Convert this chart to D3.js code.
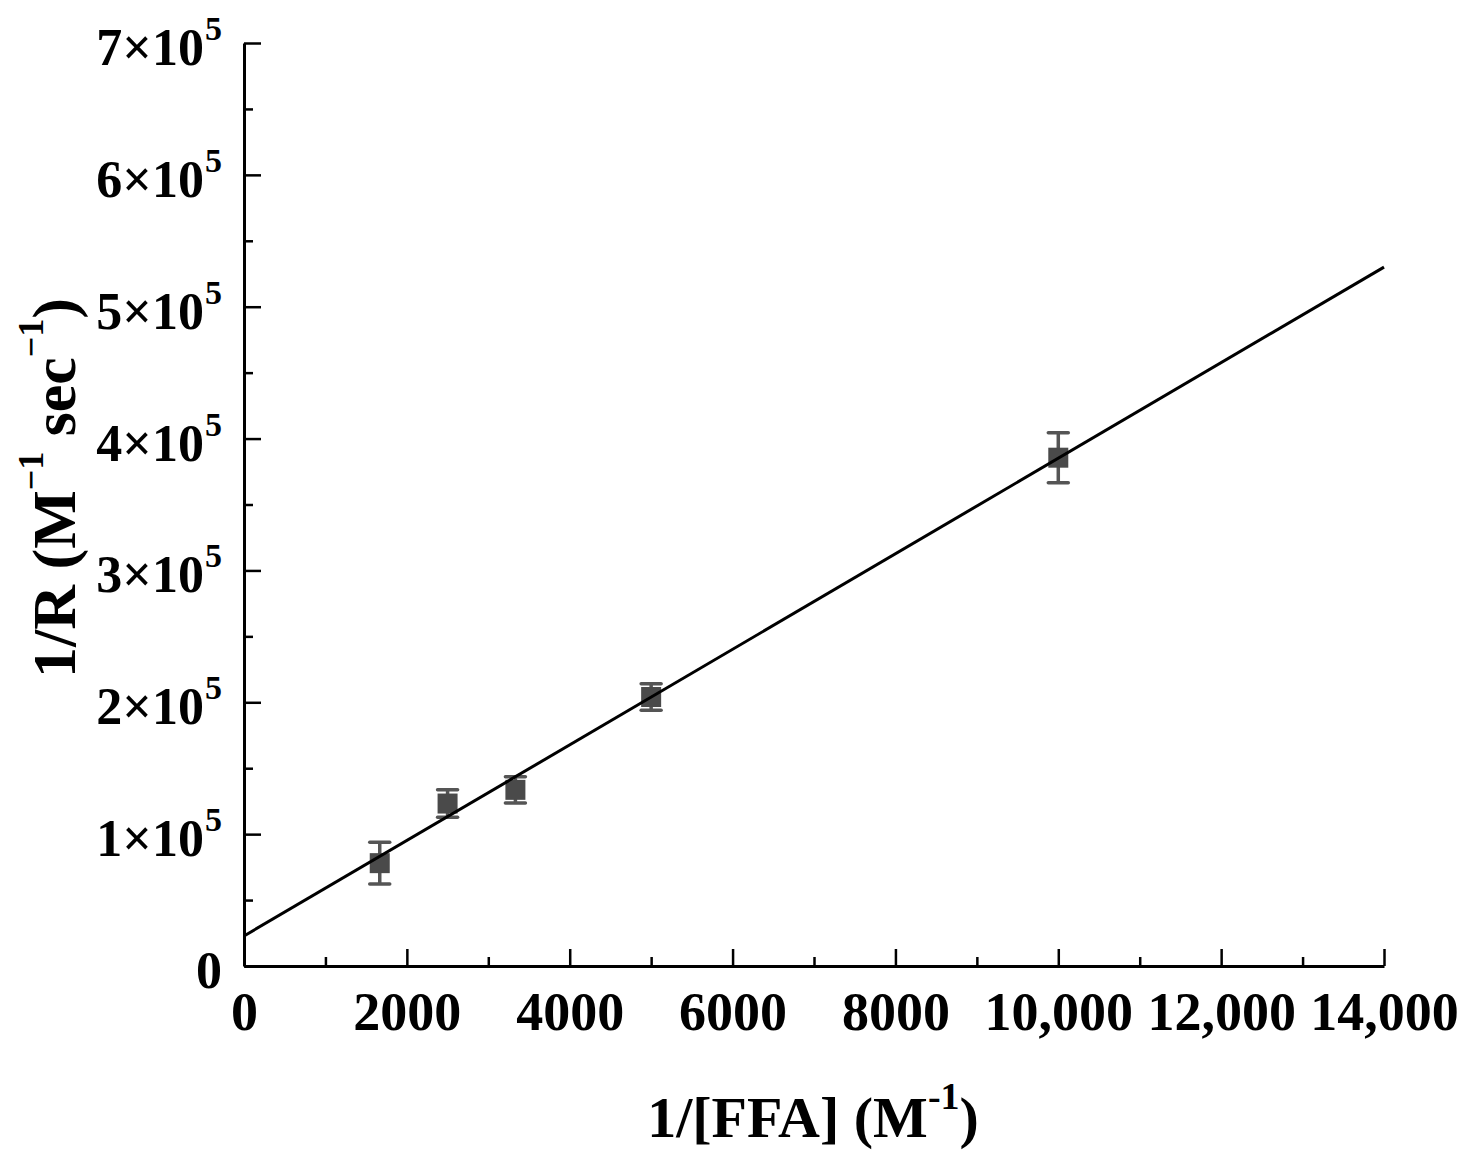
<!DOCTYPE html>
<html>
<head>
<meta charset="utf-8">
<script src="https://cdn.jsdelivr.net/npm/d3@7"></script>
<style>
  body { margin: 0; background: #fff; }
  svg text { font-family: "Liberation Serif", "Times New Roman", serif; font-weight: bold; fill: #000; }
</style>
</head>
<body>
<script>
// data
let invFFA = [1667, 2500, 3333, 5000, 10000];
let invR = [78000, 123200, 133600, 204000, 385500];
let errR = [15800, 10400, 9900, 10100, 19000];
let fitX = [0, 14000];
let fitY = [22800, 530000];
let xTicks = [0, 2000, 4000, 6000, 8000, 10000, 12000, 14000];
let yTicks = [0, 1, 2, 3, 4, 5, 6, 7];   // times 10^5

let w = 1471, h = 1164;
let padL = 244, padR = 1384, padT = 43, padB = 966;

let svg = d3.select('body').append('svg')
  .attr('width', w)
  .attr('height', h);

let xScale = d3.scaleLinear().domain([0, 14000]).range([padL, padR]);
let yScale = d3.scaleLinear().domain([0, 700000]).range([padB, padT]);

// minor ticks
svg.append('g')
  .attr('transform', `translate(0,${padB})`)
  .call(d3.axisBottom(xScale).tickValues(d3.range(1000, 14000, 2000)).tickSize(-9).tickFormat(''))
  .call(g => g.select('.domain').remove())
  .selectAll('line').attr('stroke', '#000').attr('stroke-width', 2.5);

svg.append('g')
  .attr('transform', `translate(${padL},0)`)
  .call(d3.axisLeft(yScale).tickValues(d3.range(50000, 700000, 100000)).tickSize(-9).tickFormat(''))
  .call(g => g.select('.domain').remove())
  .selectAll('line').attr('stroke', '#000').attr('stroke-width', 2.5);

// x axis
let xAxis = svg.append('g')
  .attr('transform', `translate(0,${padB})`)
  .call(d3.axisBottom(xScale).tickValues(xTicks).tickSizeInner(-17).tickSizeOuter(0)
    .tickFormat(d => d >= 10000 ? d3.format(',')(d) : d));
xAxis.select('.domain').attr('stroke', '#000').attr('stroke-width', 3);
xAxis.selectAll('line').attr('stroke', '#000').attr('stroke-width', 2.5);
xAxis.selectAll('text')
  .attr('y', 64)
  .attr('dy', 0)
  .attr('fill', '#000')
  .attr('font-size', 54);

// y axis
let yAxis = svg.append('g')
  .attr('transform', `translate(${padL},0)`)
  .call(d3.axisLeft(yScale).tickValues(yTicks.map(d => d * 100000)).tickSizeInner(-17).tickSizeOuter(0).tickFormat(''));
yAxis.select('.domain').attr('stroke', '#000').attr('stroke-width', 3);
yAxis.selectAll('line').attr('stroke', '#000').attr('stroke-width', 2.5);

// y tick labels: mantissa and exponent as separate texts
let yLab = svg.append('g');
yTicks.forEach(t => {
  let yy = yScale(t * 100000) + 22;
  if (t === 0) {
    yLab.append('text').attr('x', 222).attr('y', yy)
      .attr('text-anchor', 'end').attr('font-size', 52).text('0');
  } else {
    yLab.append('text').attr('x', 204).attr('y', yy)
      .attr('text-anchor', 'end').attr('font-size', 52).text(t + '\u00d710');
    yLab.append('text').attr('x', 205).attr('y', yy - 25)
      .attr('font-size', 34).text('5');
  }
});

// fit line
let fitLine = () => svg.append('line')
  .attr('x1', xScale(fitX[0]))
  .attr('y1', yScale(fitY[0]))
  .attr('x2', xScale(fitX[1]))
  .attr('y2', yScale(fitY[1]))
  .attr('stroke', '#000')
  .attr('stroke-width', 3);

// error bars
let pts = invFFA.map((x, i) => ({x: x, y: invR[i], e: errR[i]}));
let eb = svg.append('g').attr('stroke', '#555').attr('stroke-width', 3.5);
eb.selectAll('.v').data(pts).enter().append('line')
  .attr('x1', d => xScale(d.x)).attr('x2', d => xScale(d.x))
  .attr('y1', d => yScale(d.y - d.e)).attr('y2', d => yScale(d.y + d.e));
eb.selectAll('.t').data(pts).enter().append('line')
  .attr('x1', d => xScale(d.x) - 10).attr('x2', d => xScale(d.x) + 10)
  .attr('y1', d => yScale(d.y + d.e)).attr('y2', d => yScale(d.y + d.e))
  .attr('stroke-linecap', 'round');
eb.selectAll('.b').data(pts).enter().append('line')
  .attr('x1', d => xScale(d.x) - 10).attr('x2', d => xScale(d.x) + 10)
  .attr('y1', d => yScale(d.y - d.e)).attr('y2', d => yScale(d.y - d.e))
  .attr('stroke-linecap', 'round');

// squares
svg.selectAll('rect.pt').data(pts).enter().append('rect')
  .attr('class', 'pt')
  .attr('x', d => xScale(d.x) - 10)
  .attr('y', d => yScale(d.y) - 10)
  .attr('width', 20)
  .attr('height', 20)
  .attr('fill', '#4a4a4a');

// line drawn over the squares like the original
fitLine();

// axis titles
let xt = svg.append('text')
  .attr('x', 813)
  .attr('y', 1137)
  .attr('text-anchor', 'middle')
  .attr('font-size', 58);
xt.append('tspan').text('1/[FFA] (M');
xt.append('tspan').attr('dy', -28).attr('font-size', 38).text('-1');
xt.append('tspan').attr('dy', 28).text(')');

let yt = svg.append('text')
  .attr('transform', 'translate(75,488) rotate(-90)')
  .attr('text-anchor', 'middle')
  .attr('font-size', 62);
yt.append('tspan').text('1/R (M');
yt.append('tspan').attr('dy', -32).attr('font-size', 36).text('\u22121');
yt.append('tspan').attr('dy', 32).text(' sec');
yt.append('tspan').attr('dy', -32).attr('font-size', 36).text('\u22121');
yt.append('tspan').attr('dy', 32).text(')');
</script>
</body>
</html>
